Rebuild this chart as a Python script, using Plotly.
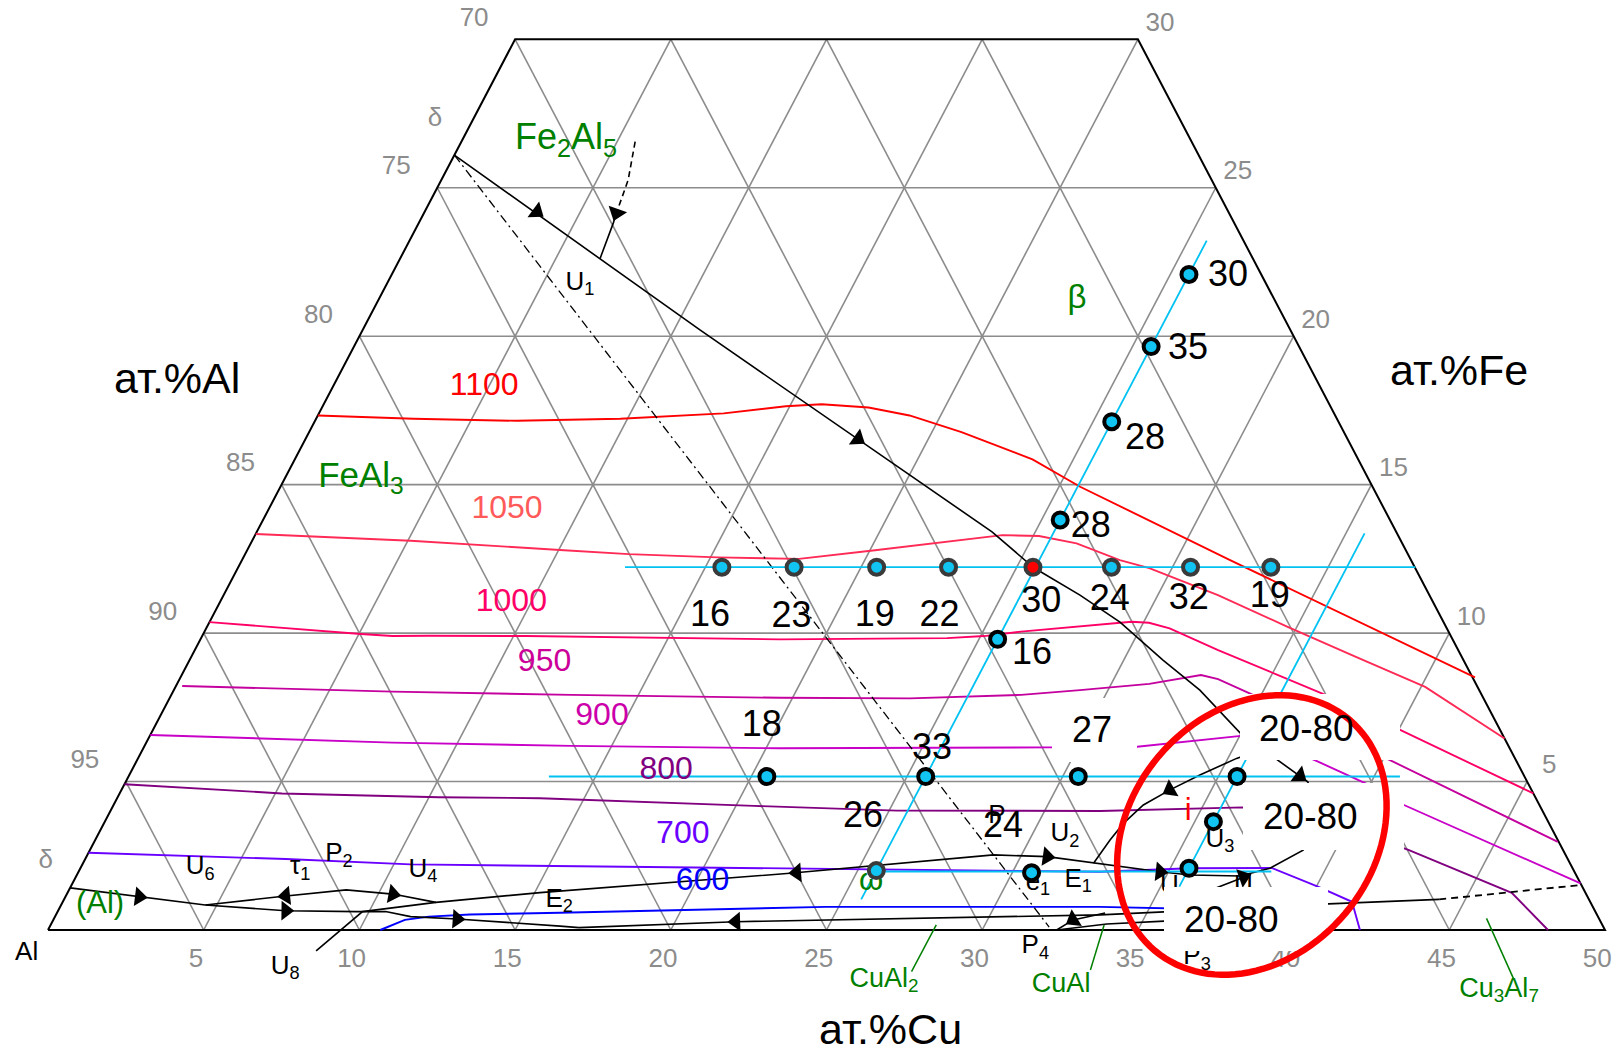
import math
import plotly.graph_objects as go

W, H = 1621, 1055
PX_X, PX_Y = 31.14, 29.69          # pixels per at.% (horizontal base unit / vertical Fe unit)
X_LEFT_PX, Y_BASE_PX = 48.0, 930.0  # Al corner in page pixels
FONT = "Liberation Sans, Arial, sans-serif"

# ------------------------------------------------------------------ data (at.% Cu, at.% Fe)
CU_TICKS = [5, 10, 15, 20, 25, 30, 35, 40, 45, 50]
FE_TICKS = [5, 10, 15, 20, 25, 30]
AL_TICKS = [70, 75, 80, 85, 90, 95]
DELTA_FE = [27.3, 2.3]

ISO_NAMES = ["1100", "1050", "1000", "950", "900", "800", "700", "600"]
ISO_1100_CU = [0, 3.13, 6.49, 9.77, 13.0, 14.87, 15.99, 17.55, 19.0, 20.95, 23.69, 25.68, 31.73, 41.57]
ISO_1100_FE = [17.33, 17.22, 17.15, 17.22, 17.4, 17.64, 17.71, 17.6, 17.33, 16.77, 15.85, 14.93, 12.46, 8.51]
ISO_1050_CU = [0, 5.09, 10.04, 12.32, 15.23, 17.87, 20.1, 22.33, 24.0, 25.19, 26.52, 28.19, 29.27, 31.93, 34.68, 37.4, 40.13, 43.55]
ISO_1050_FE = [13.34, 13.11, 12.8, 12.66, 12.55, 12.5, 12.78, 13.08, 13.3, 13.27, 13.02, 12.46, 12.19, 11.28, 10.22, 9.2, 8.19, 6.45]
ISO_1000_CU = [0, 2.55, 5.06, 6.11, 7.27, 10.4, 18.61, 23.96, 25.11, 26.22, 28.03, 29.61, 30.18, 30.94, 32.86, 36.92, 40.05, 45.4]
ISO_1000_FE = [10.37, 10.16, 9.97, 9.9, 9.91, 9.9, 9.79, 9.83, 9.9, 10.05, 10.22, 10.38, 10.35, 10.16, 9.43, 7.97, 6.74, 4.6]
ISO_950_CU = [0.2, 7.05, 12.84, 19.6, 23.78, 27.29, 29.1, 31.22, 32.73, 33.35, 34.89, 40.36, 47.0]
ISO_950_FE = [8.22, 8.03, 7.92, 7.82, 7.8, 7.92, 8.08, 8.29, 8.59, 8.45, 7.86, 5.67, 2.97]
ISO_900_CU = [0, 7.9, 13.7, 20.45, 29.18, 31.89, 34.97, 35.46, 37.95, 39.82, 41.44, 48.43]
ISO_900_FE = [6.57, 6.31, 6.2, 6.12, 6.15, 6.17, 6.53, 6.6, 5.67, 4.95, 4.21, 1.57]
ISO_800_CU = [0, 5.21, 10.32, 13.58, 20.58, 25.25, 31.78, 36.31, 37.96, 42.36, 46.38, 48.17]
ISO_800_FE = [4.91, 4.6, 4.47, 4.44, 4.18, 4.02, 4.01, 4.13, 4.11, 2.69, 1.25, 0]
ISO_700_CU = [0, 6.44, 10.54, 15.36, 22.79, 32.8, 35.63, 38.25, 40.05, 41.4, 42.13]
ISO_700_FE = [2.6, 2.39, 2.21, 2.16, 2.08, 1.96, 2.08, 2.09, 1.46, 0.95, 0]
ISO_600_CU = [10.67, 10.96, 11.29, 12.0, 13.29, 16.15, 24.58, 33.39, 35.5, 37.0]
ISO_600_FE = [0, 0.17, 0.34, 0.45, 0.52, 0.58, 0.78, 0.78, 0.73, 0.7]
ISO_LABEL_CU = [4.86, 7.66, 9.37, 11.45, 14.21, 17.17, 18.78, 20.21]
ISO_LABEL_FE = [18.29, 14.16, 11.02, 8.99, 7.16, 5.36, 3.21, 1.62]

# monovariant lines (solid black)
L1_CU = [0, 6.42, 10.83, 23.61, 25.56, 27.5, 29.24, 31.26, 32.95, 34.96, 36.73, 37.96, 38.92]
L1_FE = [26.1, 22.62, 20.21, 13.41, 12.2, 11.28, 10.37, 9.09, 8.08, 6.64, 5.67, 4.99, 3.87]
U1_SOLID_CU = [6.18, 6.25, 6.42]
U1_SOLID_FE = [24.15, 23.8, 22.62]
U1_DASH_CU = [5.58, 6.0, 6.18]
U1_DASH_FE = [26.55, 25.26, 24.15]
DASHDOT_CU = [0, 32.1]
DASHDOT_FE = [26.1, 0.1]
AL_U6_CU = [0, 2.37, 4.63]
AL_U6_FE = [1.42, 1.12, 0.84]
U6_P2_U4_CU = [4.63, 6.85, 8.9, 10.47, 11.99]
U6_P2_U4_FE = [0.84, 1.12, 1.35, 1.21, 0.93]
U6_LOW_CU = [4.63, 7.31, 9.61, 10.53, 11.42, 12.95, 16.38, 17.01]
U6_LOW_FE = [0.84, 0.65, 0.62, 0.62, 0.45, 0.37, 0.13, 0.08]
U8_E2_E1_CU = [8.96, 9.79, 11.99, 15.17, 22.87, 29.1, 30.85, 32.45, 34.73, 35.75, 37.37, 38.2, 38.96, 38.92]
U8_E2_E1_FE = [-0.7, 0.62, 0.93, 1.26, 1.91, 2.53, 2.47, 2.25, 1.96, 1.85, 1.82, 2.08, 2.69, 3.87]
E1_UP_CU = [32.45, 32.59, 32.74, 33.07, 33.67, 34.38, 35.28, 35.89]
E1_UP_FE = [2.25, 3.03, 3.59, 4.21, 4.72, 5.22, 5.78, 6.06]
BOTTOM_CU = [36.7, 35.56, 33.53, 21.95, 17.01]
BOTTOM_FE = [0.67, 0.62, 0.51, 0.28, 0.08]
TO_P4_CU = [33.66, 32.75, 32.39]
TO_P4_FE = [0.57, 0.34, 0.0]
FROM_P4_CU = [32.39, 33.9, 35.7, 37.0]
FROM_P4_FE = [0.0, 0.2, 0.3, 0.4]
RIGHT_SOLID_CU = [39.5, 40.68, 44.16]
RIGHT_SOLID_FE = [0.85, 0.88, 1.03]
RIGHT_DASH_CU = [44.16, 48.5]
RIGHT_DASH_FE = [1.03, 1.52]
STUB_CU = [36.78, 37.59]
STUB_FE = [1.41, 1.82]

# arrows: position and a point it heads toward
ARR_CU = [3.6, 17.74, 6.18, 2.37, 7.06, 10.47, 7.31, 12.95, 23.08, 30.85, 34.73, 33.67, 21.95, 32.75, 37.6, 37.5]
ARR_FE = [24.19, 16.54, 24.15, 1.12, 1.15, 1.21, 0.65, 0.37, 1.93, 2.47, 1.96, 4.72, 0.28, 0.34, 5.19, 1.78]
ARR_TO_CU = [6.42, 23.61, 6.3, 4.63, 4.63, 11.99, 9.61, 16.38, 15.17, 32.45, 35.75, 33.07, 17.01, 32.39, 37.96, 37.59]
ARR_TO_FE = [22.62, 13.41, 23.4, 0.84, 0.84, 0.93, 0.62, 0.13, 1.26, 2.25, 1.85, 4.21, 0.08, 0.0, 4.99, 1.82]

# sections (cyan)
SEC_CU = [[12.42, 37.8], [25.6, 25.6], [13.5, 40.83], [35.6, 35.6], [25.6, 38.3]]
SEC_FE = [[12.22, 12.22], [23.22, 1.03], [5.17, 5.17], [13.36, 1.46], [1.97, 1.97]]

DOT_BLACK_CU = [25.6, 25.6, 25.6, 25.6, 25.6, 20.5, 25.6, 30.5, 35.6, 35.6, 35.6, 30.62]
DOT_BLACK_FE = [22.08, 19.65, 17.12, 13.81, 9.79, 5.17, 5.17, 5.17, 5.17, 3.65, 2.08, 1.93]
DOT_GREY_CU = [15.53, 17.85, 20.5, 22.81, 28.04, 30.58, 33.16, 25.6]
DOT_GREY_FE = [12.22, 12.22, 12.22, 12.22, 12.22, 12.22, 12.22, 2.0]
DOT_RED_CU = [25.52]
DOT_RED_FE = [12.22]

NUM_TEXT = ["30", "35", "28", "28", "16", "16", "23", "19", "22", "30", "24", "32", "19", "18", "33", "26", "24"]
NUM_CU = [26.9, 26.84, 26.98, 26.72, 26.97, 15.99, 18.63, 21.28, 23.36, 26.4, 28.56, 31.08, 33.65, 19.5, 25.36, 24.29, 28.95]
NUM_FE = [21.99, 19.54, 16.5, 13.54, 9.26, 10.54, 10.5, 10.54, 10.54, 11.0, 11.08, 11.11, 11.17, 6.85, 6.06, 3.77, 3.44]

PT_TEXT = ["U<sub>1</sub>", "U<sub>6</sub>", "τ<sub>1</sub>", "P<sub>2</sub>", "U<sub>4</sub>", "U<sub>8</sub>",
           "E<sub>2</sub>", "P<sub>4</sub>", "e<sub>1</sub>", "E<sub>1</sub>", "U<sub>2</sub>", "U<sub>3</sub>",
           "P", "P<sub>3</sub>", "U", "U"]
PT_CU = [6.19, 3.84, 7.05, 8.08, 11.03, 8.24, 15.91, 31.99, 31.0, 32.24, 31.06, 36.12, 28.57, 37.37, 35.29, 37.66]
PT_FE = [21.79, 2.09, 2.09, 2.53, 2.02, -1.25, 1.01, -0.57, 1.58, 1.68, 3.2, 3.03, 3.81, -0.94, 1.45, 1.45]

PHASE_TEXT = ["Fe<sub>2</sub>Al<sub>5</sub>", "FeAl<sub>3</sub>", "β", "(Al)", "ω",
              "CuAl<sub>2</sub>", "CuAl", "Cu<sub>3</sub>Al<sub>7</sub>"]
PHASE_CU = [3.33, 2.44, 22.43, 1.25, 25.62, 27.69, 33.46, 47.61]
PHASE_FE = [26.61, 15.22, 21.22, 0.84, 1.62, -1.68, -1.85, -2.02]
PHASE_SIZE = [36, 35, 33, 31, 31, 27, 27, 27]
LEADER_CU = [[28.44, 28.43], [33.83, 34.15], [46.0, 47.92]]
LEADER_FE = [[0.17, -1.4], [0.17, -1.35], [0.39, -1.68]]

RANGE_TEXT = ["20-80", "20-80", "20-80"]
RANGE_CU = [37.03, 38.62, 37.84]
RANGE_FE = [6.79, 3.82, 0.34]

# ------------------------------------------------------------------ helpers
def X(cu, fe):
    return [c + f / 2.0 for c, f in zip(cu, fe)]

def line(cu, fe, color, width, dash="solid"):
    return go.Scatter(x=X(cu, fe), y=list(fe), mode="lines", hoverinfo="skip",
                      line=dict(color=color, width=width, dash=dash))

fig = go.Figure()

# grid
gx, gy = [], []
for f in FE_TICKS[:-1]:
    gx += [f / 2.0, 50 - f / 2.0, None]; gy += [f, f, None]
for c in CU_TICKS[:-1]:
    ftop = min(30, 50 - c)
    gx += [c, c + ftop / 2.0, None]; gy += [0, ftop, None]
for s in CU_TICKS[:-1]:
    ftop = min(s, 30)
    gx += [s, (s - ftop) + ftop / 2.0, None]; gy += [0, ftop, None]
fig.add_trace(go.Scatter(x=gx, y=gy, mode="lines", hoverinfo="skip",
                         line=dict(color="#8c8c8c", width=1.6)))

# boundary
B_CU = [0, 0, 20, 50, 0]
B_FE = [0, 30, 30, 0, 0]
fig.add_trace(line(B_CU, B_FE, "black", 2.0))

# isotherms
ISO_CU = [ISO_1100_CU, ISO_1050_CU, ISO_1000_CU, ISO_950_CU, ISO_900_CU, ISO_800_CU, ISO_700_CU, ISO_600_CU]
ISO_FE = [ISO_1100_FE, ISO_1050_FE, ISO_1000_FE, ISO_950_FE, ISO_900_FE, ISO_800_FE, ISO_700_FE, ISO_600_FE]
ISO_LINE_COL = ["#FF0000", "#FF2A55", "#FF0066", "#C4009E", "#C800C8", "#800080", "#6A00FF", "#0000FF"]
ISO_TEXT_COL = ["#FF0000", "#FF5A5A", "#FF0066", "#CC0099", "#CC00AA", "#800080", "#6A00FF", "#0000FF"]
for cu, fe, col in zip(ISO_CU, ISO_FE, ISO_LINE_COL):
    fig.add_trace(line(cu, fe, col, 1.9))

# black lines
for cu, fe in [(L1_CU, L1_FE), (U1_SOLID_CU, U1_SOLID_FE), (AL_U6_CU, AL_U6_FE),
               (U6_P2_U4_CU, U6_P2_U4_FE), (U6_LOW_CU, U6_LOW_FE), (U8_E2_E1_CU, U8_E2_E1_FE),
               (E1_UP_CU, E1_UP_FE), (BOTTOM_CU, BOTTOM_FE), (TO_P4_CU, TO_P4_FE),
               (FROM_P4_CU, FROM_P4_FE), (RIGHT_SOLID_CU, RIGHT_SOLID_FE), (STUB_CU, STUB_FE)]:
    fig.add_trace(line(cu, fe, "black", 1.6))
fig.add_trace(line(U1_DASH_CU, U1_DASH_FE, "black", 1.6, "6px,4px"))
fig.add_trace(line(RIGHT_DASH_CU, RIGHT_DASH_FE, "black", 1.8, "7px,5px"))
fig.add_trace(line(DASHDOT_CU, DASHDOT_FE, "black", 1.3, "9px,4px,2px,4px"))

# cyan sections
for cu, fe in zip(SEC_CU, SEC_FE):
    fig.add_trace(line(cu, fe, "#00C2F2", 1.8))

# green leaders
for cu, fe in zip(LEADER_CU, LEADER_FE):
    fig.add_trace(line(cu, fe, "#008000", 1.5))

# arrowheads
angles = []
for c1, f1, c2, f2 in zip(ARR_CU, ARR_FE, ARR_TO_CU, ARR_TO_FE):
    dx = ((c2 + f2 / 2.0) - (c1 + f1 / 2.0)) * PX_X
    dy = (f2 - f1) * PX_Y
    angles.append(-math.degrees(math.atan2(dy, dx)))
fig.add_trace(go.Scatter(x=X(ARR_CU, ARR_FE), y=ARR_FE, mode="markers", hoverinfo="skip",
                         marker=dict(symbol="triangle-right", size=17, color="black", angle=angles,
                                     line=dict(width=0))))

# point labels (drawn below dots)
fig.add_trace(go.Scatter(x=X(PT_CU, PT_FE), y=PT_FE, mode="text", text=PT_TEXT, hoverinfo="skip",
                         textfont=dict(family=FONT, size=26, color="black"), cliponaxis=False))
fig.add_trace(go.Scatter(x=X(PHASE_CU, PHASE_FE), y=PHASE_FE, mode="text", text=PHASE_TEXT, hoverinfo="skip",
                         textfont=dict(family=FONT, size=PHASE_SIZE, color="#008000"), cliponaxis=False))
fig.add_trace(go.Scatter(x=X([34.63], [3.97]), y=[3.97], mode="text", text=["i"], hoverinfo="skip",
                         textfont=dict(family=FONT, size=31, color="#FF0000"), cliponaxis=False))

# dots
fig.add_trace(go.Scatter(x=X(DOT_BLACK_CU, DOT_BLACK_FE), y=DOT_BLACK_FE, mode="markers", hoverinfo="skip",
                         marker=dict(size=15, color="#11C4F2", line=dict(color="black", width=4))))
fig.add_trace(go.Scatter(x=X(DOT_GREY_CU, DOT_GREY_FE), y=DOT_GREY_FE, mode="markers", hoverinfo="skip",
                         marker=dict(size=15, color="#11C4F2", line=dict(color="#3a3a3a", width=4))))
fig.add_trace(go.Scatter(x=X(DOT_RED_CU, DOT_RED_FE), y=DOT_RED_FE, mode="markers", hoverinfo="skip",
                         marker=dict(size=15, color="#FF0000", line=dict(color="#3a3a3a", width=4))))

# number labels
fig.add_trace(go.Scatter(x=X(NUM_CU, NUM_FE), y=NUM_FE, mode="text", text=NUM_TEXT, hoverinfo="skip",
                         textfont=dict(family=FONT, size=36, color="black"), cliponaxis=False))

# isotherm labels
fig.add_trace(go.Scatter(x=X(ISO_LABEL_CU, ISO_LABEL_FE), y=ISO_LABEL_FE, mode="text", text=ISO_NAMES,
                         hoverinfo="skip", textfont=dict(family=FONT, size=32, color=ISO_TEXT_COL),
                         cliponaxis=False))

# tick labels (grey)
TICK_GREY = "#8c8c8c"
bx = [c - 7.8 / PX_X for c in CU_TICKS]
by = [-30.0 / PX_Y] * len(CU_TICKS)
rx = [50 - f / 2.0 + 22.0 / PX_X for f in FE_TICKS]
ry = [f + 15.0 / PX_Y for f in FE_TICKS]
lfe = [100 - a for a in AL_TICKS]
lx = [f / 2.0 - 41.0 / PX_X for f in lfe]
ly = [f + 20.0 / PX_Y for f in lfe]
dx_ = [f / 2.0 - 38.0 / PX_X for f in DELTA_FE]
fig.add_trace(go.Scatter(x=bx + rx + lx + dx_, y=by + ry + ly + DELTA_FE, mode="text",
                         text=[str(v) for v in CU_TICKS] + [str(v) for v in FE_TICKS]
                         + [str(v) for v in AL_TICKS] + ["δ", "δ"],
                         hoverinfo="skip", textfont=dict(family=FONT, size=26, color=TICK_GREY),
                         cliponaxis=False))
fig.add_trace(go.Scatter(x=[-0.685], y=[-0.79], mode="text", text=["Al"], hoverinfo="skip",
                         textfont=dict(family=FONT, size=26, color="black"), cliponaxis=False))

# ------------------------------------------------------------------ masks, ellipse, annotations
def rect(x0, x1, y0, y1):
    return dict(type="rect", xref="x", yref="y", x0=x0, x1=x1, y0=y0, y1=y1,
                fillcolor="white", line=dict(width=0), layer="above")

def px2x(px):
    return (px - X_LEFT_PX) / PX_X

def px2y(py):
    return (Y_BASE_PX - py) / PX_Y

shapes = [
    rect(px2x(1240), px2x(1400), px2y(760), px2y(694)),
    rect(px2x(1243), px2x(1404), px2y(850), px2y(783)),
    rect(px2x(1164), px2x(1328), px2y(951), px2y(887)),
    rect(px2x(1052), px2x(1137), px2y(762), px2y(698)),
]

# highlight ellipse (centre at a composition point, size in pixels)
ELL_CU, ELL_FE = 37.06, 3.2
ecx, ecy = ELL_CU + ELL_FE / 2.0, ELL_FE
A_PX, B_PX, TILT = 151.0, 122.0, math.radians(40)
mj = (math.sin(TILT), -math.cos(TILT))
mn = (math.cos(TILT), math.sin(TILT))
pts = []
for k in range(0, 361, 3):
    t = math.radians(k)
    u, v = B_PX * math.cos(t), A_PX * math.sin(t)
    sx = u * mn[0] + v * mj[0]
    sy = u * mn[1] + v * mj[1]
    pts.append((ecx + sx / PX_X, ecy - sy / PX_Y))
path = "M " + " L ".join(f"{x:.4f},{y:.4f}" for x, y in pts) + " Z"
shapes.append(dict(type="path", xref="x", yref="y", path=path, line=dict(color="#FF0000", width=6.5),
                   layer="above"))

annotations = []
for t, c, f in zip(RANGE_TEXT, RANGE_CU, RANGE_FE):
    annotations.append(dict(x=c + f / 2.0, y=f, xref="x", yref="y", text=t, showarrow=False,
                            xanchor="center", yanchor="middle",
                            font=dict(family=FONT, size=37, color="black")))
annotations.append(dict(x=30.15 + 6.74 / 2.0, y=6.74, xref="x", yref="y", text="27", showarrow=False,
                        xanchor="center", yanchor="middle",
                        font=dict(family=FONT, size=36, color="black")))
for t, xp, yp in [("ат.%Al", 176.8, 378.3), ("ат.%Fe", 1459.0, 370.0), ("ат.%Cu", 890.0, 1029.0)]:
    annotations.append(dict(x=xp / W, y=1 - yp / H, xref="paper", yref="paper", text=t, showarrow=False,
                            xanchor="center", yanchor="middle",
                            font=dict(family=FONT, size=43, color="black")))

xmin = -X_LEFT_PX / PX_X
ymax = Y_BASE_PX / PX_Y
fig.update_layout(
    width=W, height=H, margin=dict(l=0, r=0, t=0, b=0),
    paper_bgcolor="white", plot_bgcolor="white", showlegend=False,
    xaxis=dict(range=[xmin, xmin + W / PX_X], visible=False, fixedrange=True),
    yaxis=dict(range=[ymax - H / PX_Y, ymax], visible=False, fixedrange=True),
    shapes=shapes, annotations=annotations,
)
fig.write_html("out.html")
